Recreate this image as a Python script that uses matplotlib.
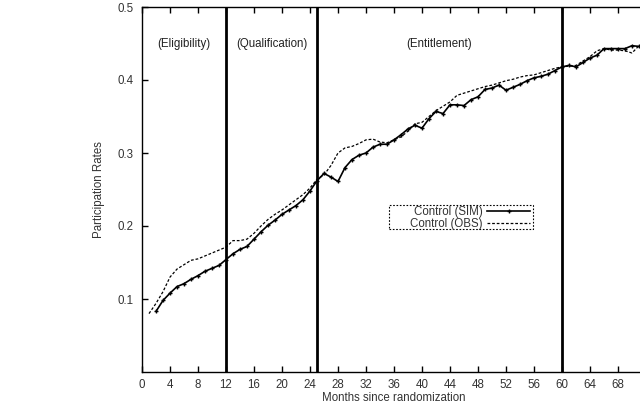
import matplotlib
matplotlib.use("Agg")
import matplotlib.pyplot as plt
from matplotlib.patches import Rectangle

plt.rcParams['font.family'] = ['Liberation Sans', 'DejaVu Sans']

sim_months = list(range(2, 72))
sim_values = [0.083, 0.098, 0.108, 0.117, 0.121, 0.127, 0.132, 0.138, 0.142, 0.146,
              0.154, 0.162, 0.168, 0.172, 0.182, 0.192, 0.201, 0.208, 0.216, 0.222,
              0.228, 0.236, 0.248, 0.262, 0.272, 0.267, 0.261, 0.280, 0.291, 0.297,
              0.300, 0.308, 0.312, 0.312, 0.318, 0.325, 0.333, 0.338, 0.334, 0.347,
              0.357, 0.354, 0.366, 0.366, 0.365, 0.373, 0.377, 0.387, 0.389, 0.393,
              0.386, 0.390, 0.394, 0.399, 0.403, 0.405, 0.408, 0.413, 0.418, 0.420,
              0.418, 0.424, 0.430, 0.434, 0.443, 0.443, 0.443, 0.443, 0.447, 0.446]

obs_months = list(range(1, 72))
obs_values = [0.080, 0.094, 0.110, 0.130, 0.141, 0.147, 0.153, 0.155, 0.159, 0.163,
              0.167, 0.171, 0.180, 0.180, 0.182, 0.190, 0.200, 0.209, 0.216, 0.222,
              0.229, 0.236, 0.243, 0.252, 0.264, 0.270, 0.283, 0.300, 0.307, 0.309,
              0.313, 0.318, 0.319, 0.315, 0.314, 0.318, 0.322, 0.330, 0.340, 0.342,
              0.350, 0.358, 0.364, 0.370, 0.379, 0.382, 0.385, 0.388, 0.391, 0.393,
              0.396, 0.399, 0.401, 0.404, 0.406, 0.407, 0.410, 0.413, 0.416, 0.418,
              0.419, 0.420, 0.426, 0.432, 0.440, 0.443, 0.441, 0.441, 0.440, 0.437,
              0.447]

phase_bounds = [12, 25, 60]
phase_labels = ["(Eligibility)", "(Qualification)", "(Entitlement)"]
phase_label_x = [6, 18.5, 42.5]

x_ticks = list(range(0, 72, 4))
y_ticks = [0.1, 0.2, 0.3, 0.4, 0.5]

FS = 8.3
TXT = '#333333'

fig = plt.figure(figsize=(6.4, 4.05), dpi=100)
ax = fig.add_axes([142/640, 33/405, 504/640, 365/405])

ax.plot(sim_months, sim_values, color='black', lw=1.2, marker='+', ms=3.5,
        mew=1.0, label='Control (SIM)')
ax.plot(obs_months, obs_values, color='black', lw=0.9, ls=(0, (2.2, 1.5)),
        label='Control (OBS)')

for b in phase_bounds:
    ax.axvline(b, color='black', lw=2.0)

for lab, xp in zip(phase_labels, phase_label_x):
    ax.text(xp, 0.45, lab, ha='center', va='center', fontsize=FS, color='#222222')

ax.set_xlim(0, 72)
ax.set_ylim(0, 0.5)
ax.set_xticks(x_ticks)
ax.set_yticks(y_ticks)
ax.set_yticklabels([f"{v:.1f}" for v in y_ticks])
ax.tick_params(direction='in', length=4, width=1, labelsize=FS,
               top=True, right=True, colors='black', labelcolor=TXT)
ax.tick_params(axis='x', pad=5)
ax.tick_params(axis='y', pad=6)
for s in ax.spines.values():
    s.set_linewidth(1.0)

ax.set_xlabel('Months since randomization', fontsize=FS, color=TXT, labelpad=1)
ax.set_ylabel('Participation Rates', fontsize=FS, color=TXT, labelpad=9)

# legend frame (dotted box, as in gnuplot)
ax.add_patch(Rectangle((0.490, 0.392), 0.286, 0.0655, transform=ax.transAxes,
                       fill=True, facecolor='white', edgecolor='black',
                       ls=(0, (1.5, 1.5)), lw=0.8, zorder=4))
leg = ax.legend(loc='upper right', bbox_to_anchor=(0.772, 0.4575), markerfirst=False,
                fontsize=FS, handlelength=3.7, handletextpad=0.4, borderpad=0.1,
                labelspacing=0.0, frameon=False, borderaxespad=0)
leg.set_zorder(5)
for t in leg.get_texts():
    t.set_color(TXT)

fig.savefig('out.png', dpi=100)
